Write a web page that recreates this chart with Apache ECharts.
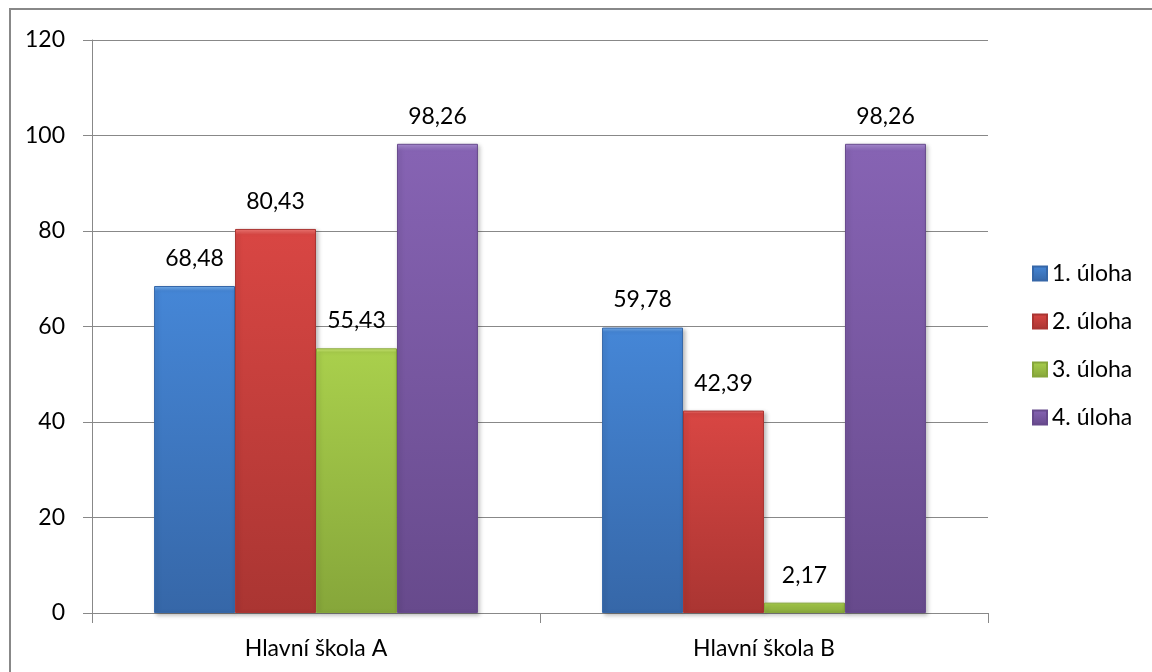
<!DOCTYPE html>
<html>
<head>
<meta charset="utf-8">
<script src="https://cdn.jsdelivr.net/npm/echarts@6/dist/echarts.min.js"></script>
<style>
  html, body { margin: 0; padding: 0; background: #fff; }
  #chart { width: 1152px; height: 672px; }
</style>
</head>
<body>
<div id="chart"></div>
<script>
// Results per school and task (percent)
const categories = ['Hlavní škola A', 'Hlavní škola B'];
const seriesNames = ['1. úloha', '2. úloha', '3. úloha', '4. úloha'];
const task1 = [68.48, 59.78];
const task2 = [80.43, 42.39];
const task3 = [55.43, 2.17];
const task4 = [98.26, 98.26];
const yTicks = { min: 0, max: 120, interval: 20 };

const FONT = 'Lato, "Open Sans", sans-serif';
const FS = 23;

// highlight / base / shade tones for the bevelled look
const palette = [
  ['#79b2f0', '#4586d6', '#3667a8'],
  ['#f47a76', '#d84643', '#aa3532'],
  ['#d2ee7c', '#a9cf4c', '#86a63a'],
  ['#ab8fd6', '#8663b3', '#674a8c']
];

function barStyle(p) {
  return {
    color: new echarts.graphic.LinearGradient(0, 0, 0, 1, [
      { offset: 0, color: p[0] },
      { offset: 0.015, color: p[1] },
      { offset: 1, color: p[2] }
    ]),
    borderColor: p[2],
    borderWidth: 1,
    shadowColor: 'rgba(0,0,0,0.25)',
    shadowBlur: 4,
    shadowOffsetX: 2,
    shadowOffsetY: 2
  };
}

const values = [task1, task2, task3, task4];
const fmt = v => v.toFixed(2).replace('.', ',');

const series = values.map((vals, i) => ({
  name: seriesNames[i],
  type: 'bar',
  data: vals,
  barGap: '0%',
  barCategoryGap: '27.7%',
  itemStyle: barStyle(palette[i]),
  label: {
    show: true,
    position: 'top',
    distance: 16,
    formatter: p => fmt(p.value),
    fontFamily: FONT,
    fontSize: FS,
    color: '#000'
  }
}));

const chart = echarts.init(document.getElementById('chart'), null, { renderer: 'canvas' });
chart.setOption({
  animation: false,
  backgroundColor: '#fff',
  graphic: [{
    type: 'rect',
    shape: { x: 10, y: 9, width: 1300, height: 800 },
    style: { fill: 'none', stroke: '#888', lineWidth: 2 },
    silent: true,
    z: 100
  }],
  grid: { left: 92, right: 164, top: 40, bottom: 59, containLabel: false },
  legend: {
    orient: 'vertical',
    left: 1027,
    top: 257,
    itemWidth: 14,
    itemHeight: 14,
    itemGap: 25,
    icon: 'rect',
    textStyle: { fontFamily: FONT, fontSize: FS, color: '#000' },
    data: seriesNames
  },
  xAxis: {
    type: 'category',
    data: categories,
    axisLine: { lineStyle: { color: '#888', width: 1 } },
    axisTick: { show: true, alignWithLabel: false, length: 10, lineStyle: { color: '#888' } },
    axisLabel: { fontFamily: FONT, fontSize: FS, color: '#000', margin: 24 }
  },
  yAxis: {
    type: 'value',
    min: yTicks.min,
    max: yTicks.max,
    interval: yTicks.interval,
    axisLine: { show: true, lineStyle: { color: '#888', width: 1 } },
    axisTick: { show: true, length: 9, lineStyle: { color: '#888' } },
    axisLabel: { fontFamily: FONT, fontSize: FS, color: '#000', margin: 27 },
    splitLine: { lineStyle: { color: '#888', width: 1 } }
  },
  series: series
});
</script>
</body>
</html>
